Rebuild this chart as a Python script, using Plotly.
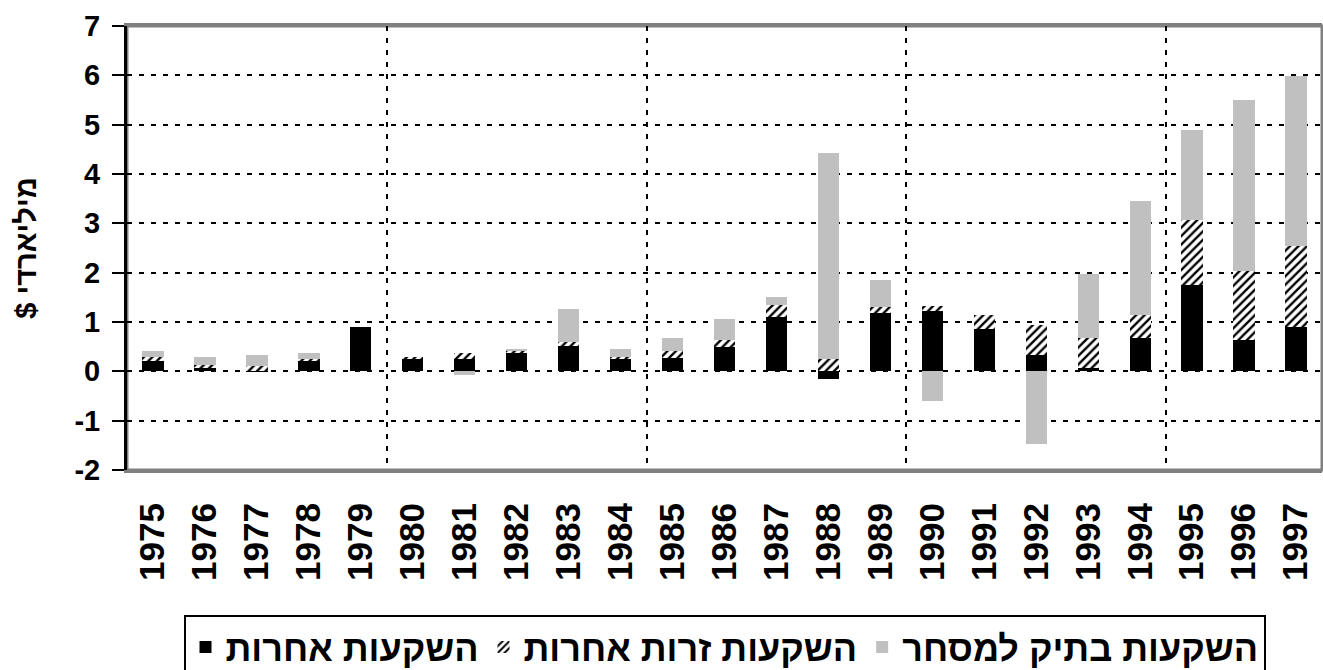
import plotly.graph_objects as go

years = [1975, 1976, 1977, 1978, 1979, 1980, 1981, 1982, 1983, 1984, 1985, 1986,
         1987, 1988, 1989, 1990, 1991, 1992, 1993, 1994, 1995, 1996, 1997]
year_labels = [str(y) for y in years]

# השקעות אחרות (black)
other_inv = [0.20, 0.07, 0.01, 0.20, 0.90, 0.25, 0.25, 0.38, 0.51, 0.25, 0.28, 0.50,
             1.10, -0.15, 1.19, 1.23, 0.85, 0.33, 0.07, 0.68, 1.75, 0.64, 0.89]
# השקעות זרות אחרות (hatched)
other_foreign = [0.09, 0.05, 0.10, 0.05, 0.00, 0.04, 0.13, 0.04, 0.08, 0.04, 0.13, 0.13,
                 0.24, 0.24, 0.11, 0.10, 0.30, 0.61, 0.61, 0.47, 1.32, 1.39, 1.66]
# השקעות בתיק למסחר (gray)
trading = [0.13, 0.17, 0.22, 0.13, 0.00, 0.00, -0.07, 0.04, 0.68, 0.17, 0.26, 0.44,
           0.16, 4.18, 0.56, -0.60, 0.00, -1.48, 1.30, 2.31, 1.83, 3.47, 3.43]

names = ["השקעות אחרות", "השקעות זרות אחרות", "השקעות בתיק למסחר"]
y_title = "$ מיליארדי"
y_ticks = [-2, -1, 0, 1, 2, 3, 4, 5, 6, 7]
y_ticktext = ["-2", "-1", "0", "1", "2", "3", "4", "5", "6", "7"]
boundaries = [1979.5, 1984.5, 1989.5, 1994.5]

FONT = "Liberation Sans, Arial, DejaVu Sans, sans-serif"
bar_w = 0.41

fig = go.Figure()
fig.add_trace(go.Bar(x=years, y=other_inv, name=names[0], width=bar_w,
                     marker=dict(color="#000000", line=dict(width=0))))
fig.add_trace(go.Bar(x=years, y=other_foreign, name=names[1], width=bar_w,
                     marker=dict(color="#ffffff", line=dict(width=0),
                                 pattern=dict(shape="/", fgcolor="#000000", bgcolor="#ffffff",
                                              size=6, solidity=0.4))))
fig.add_trace(go.Bar(x=years, y=trading, name=names[2], width=bar_w,
                     marker=dict(color="#c0c0c0", line=dict(width=0))))

fig.update_layout(
    template="none",
    width=1323, height=670,
    margin=dict(l=127, r=1, t=26, b=200, pad=0, autoexpand=False),
    paper_bgcolor="white", plot_bgcolor="white",
    barmode="relative", bargap=0,
    font=dict(family=FONT, color="black", size=28, weight="bold"),
    showlegend=True,
    legend=dict(orientation="h", x=0.5, xanchor="center", y=-0.327, yanchor="top",
                bordercolor="black", borderwidth=2, bgcolor="white",
                font=dict(family=FONT, size=36, color="black", weight="bold"),
                traceorder="normal", itemwidth=30),
    xaxis=dict(
        automargin=False,
        range=[1974.5, 1997.5], tickmode="array", tickvals=years, ticktext=year_labels,
        tickangle=-90, ticks="", showgrid=False, zeroline=False,
        showline=True, linecolor="#808080", linewidth=3, mirror=True,
        ticklabelstandoff=16,
        tickfont=dict(family=FONT, size=35, weight="bold"),
        minor=dict(tickmode="array", tickvals=boundaries, showgrid=True,
                   gridcolor="black", gridwidth=2, griddash="5px,7px", ticks=""),
    ),
    xaxis2=dict(
        automargin=False,
        overlaying="x", anchor="free", position=2 / 9, side="bottom",
        range=[1974.5, 1997.5], tickmode="array", tickvals=boundaries,
        ticks="outside", ticklen=15, tickwidth=3, tickcolor="black",
        showticklabels=False, showgrid=False, zeroline=False,
        showline=True, linecolor="black", linewidth=3,
    ),
    yaxis=dict(
        automargin=False,
        range=[-2, 7], tickmode="array", tickvals=y_ticks, ticktext=y_ticktext,
        ticks="outside", ticklen=12, tickwidth=2, tickcolor="black",
        showline=True, linecolor="black", linewidth=3,
        showgrid=True, gridcolor="black", gridwidth=2, griddash="5px,7px",
        zeroline=False, ticklabelstandoff=6,
        tickfont=dict(family=FONT, size=29, weight="bold"),
        title=dict(text=y_title, standoff=30,
                   font=dict(family=FONT, size=29, weight="bold")),
    ),
)

fig.add_shape(type="rect", xref="paper", yref="paper", x0=0, x1=1, y0=0, y1=1,
              line=dict(color="#808080", width=3), layer="below")

fig.write_html(
    "out.html",
    config={"displayModeBar": False},
    post_script="document.body.style.margin='0';document.body.style.overflow='hidden';",
)
